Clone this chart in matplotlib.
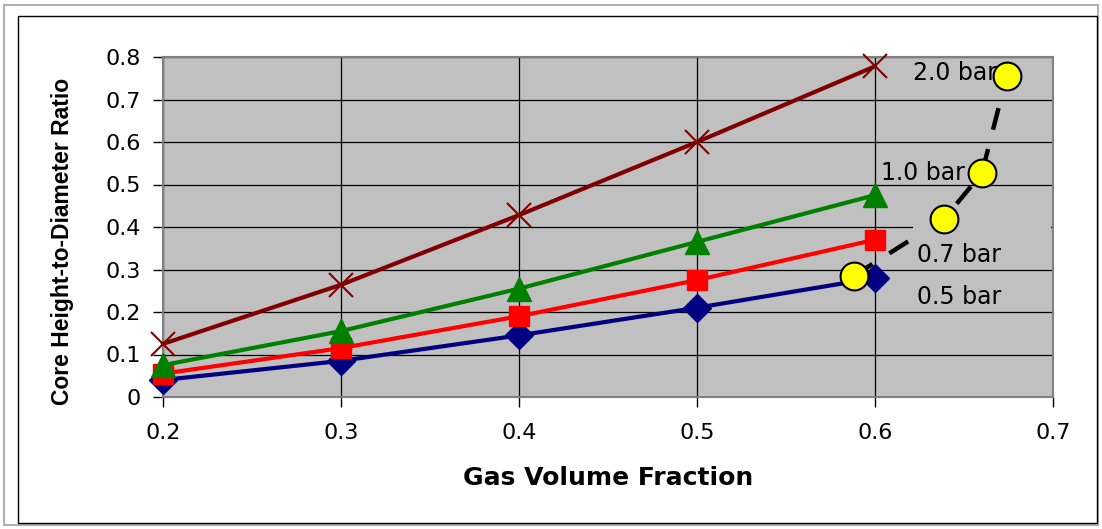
import matplotlib.pyplot as plt
from matplotlib.patches import Rectangle

plt.rcParams['font.family'] = ['DejaVu Sans']

gas_fraction = [0.2, 0.3, 0.4, 0.5, 0.6]
ratio_05bar = [0.040, 0.085, 0.145, 0.210, 0.280]
ratio_07bar = [0.055, 0.115, 0.190, 0.275, 0.370]
ratio_10bar = [0.075, 0.155, 0.255, 0.365, 0.475]
ratio_20bar = [0.125, 0.264, 0.428, 0.600, 0.778]

# Points marking the pressure labels, joined by a dashed guide
guide_x = [0.588, 0.639, 0.660, 0.674]
guide_y = [0.285, 0.420, 0.526, 0.755]

labels = ["0.5 bar", "0.7 bar", "1.0 bar", "2.0 bar"]
label_x = [0.6235, 0.6235, 0.6033, 0.6213]
label_y = [0.236, 0.335, 0.528, 0.762]

fig = plt.figure(figsize=(11.02, 5.29), dpi=100)

# Frame borders around the figure
fig.patches.append(Rectangle((4 / 1102, 1 - 525 / 529), 1094 / 1102, 520 / 529,
                             transform=fig.transFigure, fill=False,
                             edgecolor='#b0b0b0', linewidth=1.5))
fig.patches.append(Rectangle((18 / 1102, 1 - 523 / 529), 1079 / 1102, 507 / 529,
                             transform=fig.transFigure, fill=False,
                             edgecolor='black', linewidth=1.0))

ax = fig.add_axes([163 / 1102, 1 - 397 / 529, (1053 - 163) / 1102, (397 - 57) / 529])
ax.set_facecolor('#c0c0c0')

ax.plot(gas_fraction, ratio_05bar, color='#000080', lw=3, marker='D', ms=14,
        mec='#000080', mfc='#000080', zorder=3, clip_on=False)
ax.plot(gas_fraction, ratio_07bar, color='#ff0000', lw=3, marker='s', ms=14,
        mec='#ff0000', mfc='#ff0000', zorder=4, clip_on=False)
ax.plot(gas_fraction, ratio_10bar, color='#008000', lw=3, marker='^', ms=17,
        mec='#008000', mfc='#008000', zorder=5, clip_on=False)
ax.plot(gas_fraction, ratio_20bar, color='#800000', lw=3, marker='x', ms=17,
        mew=1.5, zorder=6, clip_on=False)

ax.plot(guide_x, guide_y, color='black', lw=3.2, ls=(0, (5, 4.5)), zorder=7)

# Label background box for the 0.7 bar label, hiding the guide behind it
ax.add_patch(Rectangle((0.6213, 0.312), 0.0777, 0.099, facecolor='#c0c0c0',
                       edgecolor='none', zorder=7.5, clip_on=True))

ax.plot(guide_x, guide_y, ls='none', marker='o', ms=20, mfc='#ffff00',
        mec='black', mew=1.5, zorder=8, clip_on=False)

for txt, tx, ty in zip(labels, label_x, label_y):
    ax.text(tx, ty, txt, fontsize=17, ha='left', va='center', zorder=7.8)

ax.set_xlim(0.2, 0.7)
ax.set_ylim(0, 0.8)
ax.set_xticks([0.2, 0.3, 0.4, 0.5, 0.6, 0.7])
ax.set_xticklabels(['0.2', '0.3', '0.4', '0.5', '0.6', '0.7'])
ax.set_yticks([0, 0.1, 0.2, 0.3, 0.4, 0.5, 0.6, 0.7, 0.8])
ax.set_yticklabels(['0', '0.1', '0.2', '0.3', '0.4', '0.5', '0.6', '0.7', '0.8'])
ax.grid(True, color='black', lw=0.9)
ax.set_axisbelow(True)
ax.tick_params(axis='both', labelsize=16, length=7, width=1, color='black', direction='out')
ax.tick_params(axis='x', pad=12)
ax.tick_params(axis='y', pad=9)
for s in ax.spines.values():
    s.set_color('#808080')
    s.set_linewidth(1.5)

ax.set_xlabel('Gas Volume Fraction', fontsize=18, fontweight='bold', labelpad=16)
ax.set_ylabel('Core Height-to-Diameter Ratio', fontsize=16.5, fontweight='bold',
              family='Liberation Sans')
ax.yaxis.set_label_coords(-0.100, 0.459)

fig.savefig('out.png', dpi=100)
